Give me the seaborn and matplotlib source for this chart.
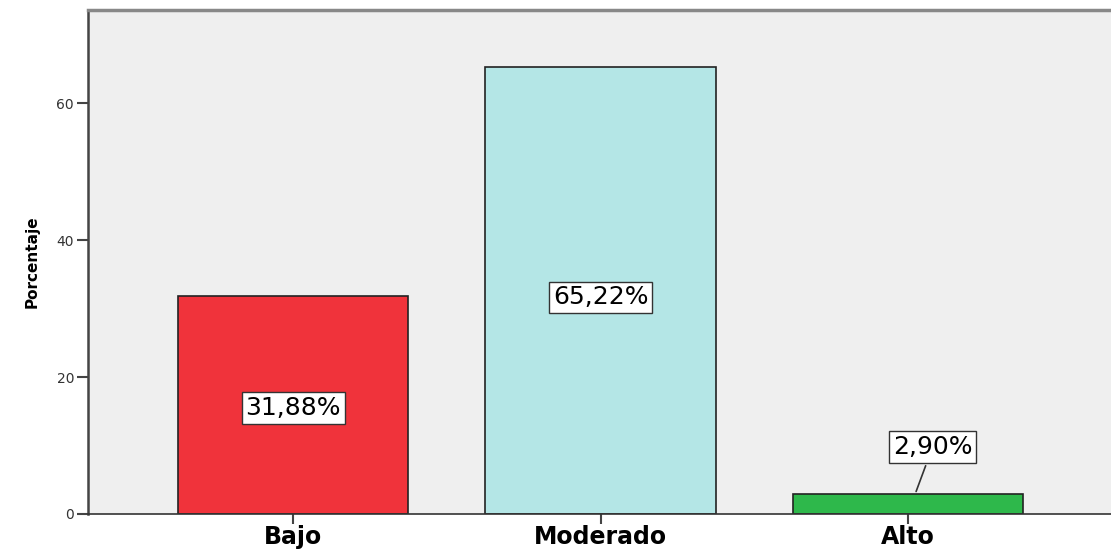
import pandas as pd
import matplotlib.pyplot as plt
import seaborn as sns

# datos del grafico
categorias = ["Bajo", "Moderado", "Alto"]
porcentajes = [31.88, 65.22, 2.90]
etiquetas = ["31,88%", "65,22%", "2,90%"]
colores = ["#f0333b", "#b4e6e6", "#2eb84b"]

df = pd.DataFrame({"Nivel": categorias, "Porcentaje": porcentajes})

sns.set_style("white")
plt.rcParams["font.family"] = ["DejaVu Sans"]

fig = plt.figure(figsize=(11.11, 5.51), dpi=100)
ax = fig.add_axes([0.0792, 0.0672, 0.9208, 0.9146])
ax.set_facecolor("#efefef")

sns.barplot(data=df, x="Nivel", y="Porcentaje", hue="Nivel", palette=colores,
            order=categorias, width=0.75, edgecolor="#222222", linewidth=1.2,
            saturation=1, legend=False, ax=ax)

ax.set_xlim(-0.667, 2.66)
ax.set_ylim(0, 73.6)
ax.set_yticks([0, 20, 40, 60])
ax.tick_params(axis="y", length=8, width=1.5, color="#444444", labelsize=10,
               labelcolor="#333333", left=True, pad=2)
ax.tick_params(axis="x", length=7, width=1.5, color="#444444", labelsize=17,
               labelcolor="black", bottom=True, pad=1)
for t in ax.get_xticklabels():
    t.set_fontweight("bold")

ax.set_xlabel("")
ax.set_ylabel("Porcentaje", fontsize=11, fontweight="bold", color="black",
              labelpad=12)

ax.spines["right"].set_visible(False)
ax.spines["top"].set_color("#888888")
ax.spines["top"].set_linewidth(2.5)
ax.spines["left"].set_color("#444444")
ax.spines["left"].set_linewidth(1.8)
ax.spines["bottom"].set_color("#333333")
ax.spines["bottom"].set_linewidth(1.2)

caja = dict(boxstyle="square,pad=0.15", facecolor="white", edgecolor="#333333", linewidth=1)
for i, (v, txt) in enumerate(zip(porcentajes, etiquetas)):
    if v > 10:
        ax.text(i, v / 2 * 0.97, txt, ha="center", va="center", fontsize=18,
                color="black", bbox=caja)
    else:
        ax.annotate(txt, xy=(i + 0.023, v), xytext=(i + 0.08, 9.8),
                    ha="center", va="center", fontsize=18, color="black", bbox=caja,
                    arrowprops=dict(arrowstyle="-", color="#333333", lw=1.2))

fig.savefig("out.png", dpi=100)
